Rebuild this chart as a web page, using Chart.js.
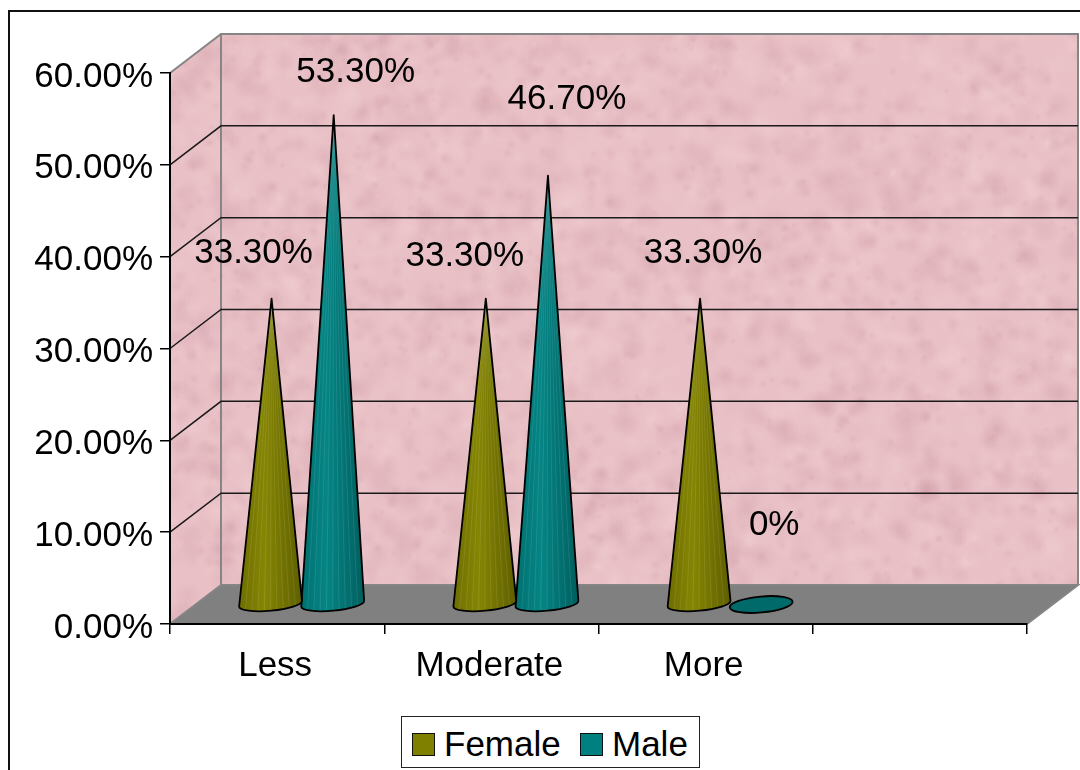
<!DOCTYPE html>
<html>
<head>
<meta charset="utf-8">
<title>Female and Male</title>
<script src="https://cdn.jsdelivr.net/npm/chart.js@4/dist/chart.umd.js"></script>
<style>
    body { margin: 0; background: #fff; }
    #wrap { position: relative; width: 1080px; height: 770px; overflow: hidden; }
    #legend {
        position: absolute; left: 401px; top: 716px; width: 297px; height: 50px;
        border: 1px solid #222; background: #fff;
        font: 35px "Liberation Sans", Arial, sans-serif; color: #000;
    }
    #legend span { position: absolute; top: 6px; line-height: 42px; }
    #legend i { position: absolute; top: 16px; width: 21px; height: 21px; border: 1px solid #111; box-sizing: content-box; }
</style>
</head>
<body>
<div id="wrap">
    <canvas id="chart" width="1080" height="770"></canvas>
    <div id="legend"></div>
</div>
<script>
const categories = ['Less', 'Moderate', 'More', ''];
const femaleValues = [33.3, 33.3, 33.3, null];
const maleValues = [53.3, 46.7, 0, null];
const yTickLabels = ['0.00%', '10.00%', '20.00%', '30.00%', '40.00%', '50.00%', '60.00%'];
const seriesNames = ['Female', 'Male'];

const seriesColors = ['#808000', '#008080'];
const coneShades = [['#6e6e00', '#858503', '#5e5e00'], ['#007070', '#058585', '#005e5e']];
const labelFont = '35px "Liberation Sans", Arial, sans-serif';

// how far the floor and back wall sit behind the axes
const depthX = 51;
const depthY = -39;

// hand placed data labels, relative to the tip of each cone
const labelNudge = [
    [[-18, -45], [-21, -42], [3, -45]],
    [[22, -43], [19, -76], [12, -79]]
];

function makeTexture() {
    const c = document.createElement('canvas');
    c.width = 1080;
    c.height = 770;
    const g = c.getContext('2d');
    g.fillStyle = '#e8c0c5';
    g.fillRect(0, 0, 1080, 770);
    let seed = 12345;
    const next = function () {
        seed = (seed * 16807) % 2147483647;
        return seed / 2147483647;
    };
    for (let i = 0; i < 6000; i++) {
        const x = next() * 1080;
        const y = next() * 770;
        const r = 3 + next() * 14;
        const dark = next() < 0.5;
        const grad = g.createRadialGradient(x, y, 0, x, y, r);
        grad.addColorStop(0, dark ? 'rgba(190,130,145,0.13)' : 'rgba(248,218,222,0.14)');
        grad.addColorStop(1, dark ? 'rgba(190,130,145,0)' : 'rgba(248,218,222,0)');
        g.fillStyle = grad;
        g.fillRect(x - r, y - r, r * 2, r * 2);
    }
    return c;
}

function poly(ctx, pts) {
    ctx.beginPath();
    pts.forEach(function (p, i) {
        if (i === 0) ctx.moveTo(p[0], p[1]);
        else ctx.lineTo(p[0], p[1]);
    });
    ctx.closePath();
}

const wallsPlugin = {
    id: 'walls',
    beforeDraw(chart) {
        const ctx = chart.ctx;
        const a = chart.chartArea;
        const y = chart.scales.y;
        const texture = ctx.createPattern(makeTexture(), 'no-repeat');
        ctx.save();

        // frame of the picture, runs off the right and bottom
        ctx.strokeStyle = '#111';
        ctx.lineWidth = 2;
        ctx.beginPath();
        ctx.moveTo(9, 770);
        ctx.lineTo(9, 11);
        ctx.lineTo(1080, 11);
        ctx.stroke();

        ctx.fillStyle = texture;
        poly(ctx, [[a.left + depthX, a.top + depthY], [a.right + depthX, a.top + depthY], [a.right + depthX, a.bottom + depthY], [a.left + depthX, a.bottom + depthY]]);
        ctx.fill();
        poly(ctx, [[a.left, a.top], [a.left + depthX, a.top + depthY], [a.left + depthX, a.bottom + depthY], [a.left, a.bottom]]);
        ctx.fill();
        ctx.fillStyle = '#808080';
        poly(ctx, [[a.left, a.bottom], [a.left + depthX, a.bottom + depthY], [a.right + depthX, a.bottom + depthY], [a.right, a.bottom]]);
        ctx.fill();

        // wall edges
        ctx.strokeStyle = '#858585';
        ctx.lineWidth = 2;
        ctx.beginPath();
        ctx.moveTo(a.left, a.top);
        ctx.lineTo(a.left + depthX, a.top + depthY);
        ctx.lineTo(a.right + depthX, a.top + depthY);
        ctx.lineTo(a.right + depthX, a.bottom + depthY);
        ctx.moveTo(a.left + depthX, a.top + depthY);
        ctx.lineTo(a.left + depthX, a.bottom + depthY);
        ctx.lineTo(a.left, a.bottom);
        ctx.moveTo(a.left + depthX, a.bottom + depthY);
        ctx.lineTo(a.right + depthX, a.bottom + depthY);
        ctx.lineTo(a.right, a.bottom);
        ctx.stroke();

        // gridlines go along the side wall and across the back
        ctx.strokeStyle = '#1a1a1a';
        ctx.lineWidth = 1.5;
        y.ticks.forEach(function (t) {
            if (t.value === y.min || t.value === y.max) return;
            const py = y.getPixelForValue(t.value);
            ctx.beginPath();
            ctx.moveTo(a.left, py);
            ctx.lineTo(a.left + depthX, py + depthY);
            ctx.lineTo(a.right + depthX, py + depthY);
            ctx.stroke();
        });
        ctx.restore();
    }
};

function drawCone(ctx, bar, seriesIndex, isZero) {
    const cx = bar.x + depthX / 2 - 1;
    const by = bar.base + depthY / 2;
    const tip = bar.y + depthY / 2;
    const rx = bar.width / 2 + 0.5;
    const rot = -0.09;
    const shades = coneShades[seriesIndex];

    ctx.save();
    ctx.lineJoin = 'round';
    ctx.strokeStyle = '#000';
    ctx.lineWidth = 1.8;
    if (isZero) {
        ctx.beginPath();
        ctx.ellipse(cx, by, rx, 8, rot, 0, Math.PI * 2);
        ctx.fillStyle = '#006a6a';
        ctx.fill();
        ctx.stroke();
        ctx.restore();
        return;
    }

    const outline = function () {
        ctx.beginPath();
        ctx.moveTo(cx + 1, tip);
        ctx.ellipse(cx, by, rx, 7, rot, Math.PI, 0, true);
        ctx.closePath();
    };
    const grad = ctx.createLinearGradient(cx - rx, 0, cx + rx, 0);
    grad.addColorStop(0, shades[0]);
    grad.addColorStop(0.4, shades[1]);
    grad.addColorStop(1, shades[2]);
    outline();
    ctx.fillStyle = grad;
    ctx.fill();

    // faint facets of the cone
    ctx.save();
    outline();
    ctx.clip();
    ctx.strokeStyle = 'rgba(255,255,255,0.1)';
    ctx.lineWidth = 1;
    for (let k = 1; k < 10; k++) {
        ctx.beginPath();
        ctx.moveTo(cx + 1, tip);
        ctx.lineTo(cx - rx + (2 * rx * k) / 10, by + 8);
        ctx.stroke();
    }
    ctx.restore();

    outline();
    ctx.stroke();
    ctx.restore();
}

// bars are laid out by chart.js, they just get painted as cones
const conePlugin = {
    id: 'cones',
    beforeDatasetDraw(chart, args) {
        const values = chart.data.datasets[args.index].data;
        args.meta.data.forEach(function (bar, i) {
            if (values[i] === null) return;
            drawCone(chart.ctx, bar, args.index, values[i] === 0);
        });
        return false;
    },
    afterDatasetsDraw(chart) {
        const ctx = chart.ctx;
        ctx.save();
        ctx.font = labelFont;
        ctx.fillStyle = '#000';
        ctx.textAlign = 'center';
        ctx.textBaseline = 'middle';
        chart.data.datasets.forEach(function (ds, s) {
            chart.getDatasetMeta(s).data.forEach(function (bar, i) {
                if (ds.data[i] === null) return;
                const text = ds.data[i] === 0 ? '0%' : ds.data[i].toFixed(2) + '%';
                ctx.fillText(text, bar.x + depthX / 2 + labelNudge[s][i][0], bar.y + depthY / 2 + labelNudge[s][i][1]);
            });
        });
        ctx.restore();
    }
};

const chart = new Chart(document.getElementById('chart').getContext('2d'), {
    type: 'bar',
    data: {
        labels: categories,
        datasets: [
            { label: seriesNames[0], data: femaleValues, backgroundColor: seriesColors[0] },
            { label: seriesNames[1], data: maleValues, backgroundColor: seriesColors[1] }
        ]
    },
    options: {
        responsive: false,
        animation: false,
        layout: { padding: { top: 73, right: 53, left: 0, bottom: 0 } },
        categoryPercentage: 0.58,
        barPercentage: 1,
        plugins: { legend: { display: false }, tooltip: { enabled: false } },
        scales: {
            x: {
                afterFit: function (scale) { scale.height = 146; },
                grid: { drawOnChartArea: false, tickLength: 10, color: '#000', lineWidth: 1.5 },
                border: { color: '#000', width: 2 },
                ticks: { color: '#000', font: { family: '"Liberation Sans"', size: 35 }, padding: 11, labelOffset: -2, maxRotation: 0 }
            },
            y: {
                min: 0,
                max: 60,
                afterFit: function (scale) { scale.width = 170; },
                grid: { drawOnChartArea: false, tickLength: 10, color: '#000', lineWidth: 1.5 },
                border: { color: '#000', width: 2 },
                ticks: {
                    stepSize: 10,
                    color: '#000',
                    padding: 7,
                    labelOffset: 4,
                    font: { family: '"Liberation Sans"', size: 35 },
                    callback: function (value, index) { return yTickLabels[index]; }
                }
            }
        }
    },
    plugins: [wallsPlugin, conePlugin]
});

// legend box is plain html, chart.js puts the swatch too far from the text
const legend = document.getElementById('legend');
const swatchLeft = [10, 178];
const textLeft = [42, 210];
chart.data.datasets.forEach(function (ds, i) {
    const swatch = document.createElement('i');
    swatch.style.left = swatchLeft[i] + 'px';
    swatch.style.background = ds.backgroundColor;
    legend.appendChild(swatch);
    const name = document.createElement('span');
    name.style.left = textLeft[i] + 'px';
    name.textContent = ds.label;
    legend.appendChild(name);
});
</script>
</body>
</html>
